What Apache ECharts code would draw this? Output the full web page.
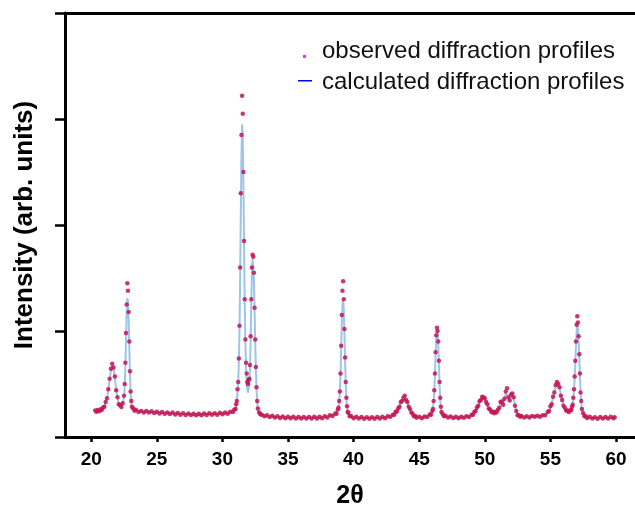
<!DOCTYPE html>
<html>
<head>
<meta charset="utf-8">
<script src="https://cdn.jsdelivr.net/npm/echarts@6/dist/echarts.min.js"></script>
<style>
html,body{margin:0;padding:0;background:#fff;}
#chart{width:635px;height:505px;}
</style>
</head>
<body>
<div id="chart"></div>
<script>
// ---- data ----
const twoTheta = [
  20.3, 20.4, 20.5, 20.6, 20.7, 20.8, 20.9, 21.0, 21.1, 21.2,
  21.3, 21.4, 21.5, 21.6, 21.7, 21.8, 21.9, 22.0, 22.1, 22.2,
  22.3, 22.4, 22.5, 22.55, 22.6, 22.65, 22.7, 22.75, 22.8, 22.85,
  22.9, 22.95, 23.0, 23.05, 23.1, 23.2, 23.3, 23.4, 23.6, 23.8,
  24.0, 24.2, 24.4, 24.6, 24.8, 25.0, 25.2, 25.4, 25.6, 25.8,
  26.0, 26.2, 26.4, 26.6, 26.8, 27.0, 27.2, 27.4, 27.6, 27.8,
  28.0, 28.2, 28.4, 28.6, 28.8, 29.0, 29.2, 29.4, 29.6, 29.8,
  30.0, 30.2, 30.4, 30.6, 30.8, 30.9, 31.0, 31.05, 31.1, 31.15,
  31.2, 31.25, 31.3, 31.35, 31.4, 31.45, 31.5, 31.55, 31.6, 31.65,
  31.7, 31.75, 31.8, 31.85, 31.9, 31.95, 32.0, 32.05, 32.1, 32.15,
  32.2, 32.25, 32.3, 32.35, 32.4, 32.45, 32.5, 32.55, 32.6, 32.65,
  32.7, 32.8, 32.9, 33.0, 33.2, 33.4, 33.6, 33.8, 34.0, 34.2,
  34.4, 34.6, 34.8, 35.0, 35.2, 35.4, 35.6, 35.8, 36.0, 36.2,
  36.4, 36.6, 36.8, 37.0, 37.2, 37.4, 37.6, 37.8, 38.0, 38.2,
  38.4, 38.6, 38.7, 38.8, 38.85, 38.9, 38.95, 39.0, 39.05, 39.1,
  39.15, 39.2, 39.25, 39.3, 39.35, 39.4, 39.45, 39.5, 39.55, 39.6,
  39.7, 39.8, 40.0, 40.2, 40.4, 40.6, 40.8, 41.0, 41.2, 41.4,
  41.6, 41.8, 42.0, 42.2, 42.4, 42.6, 42.8, 43.0, 43.1, 43.2,
  43.3, 43.4, 43.5, 43.6, 43.7, 43.8, 43.9, 44.0, 44.1, 44.2,
  44.3, 44.4, 44.5, 44.6, 44.7, 44.8, 45.0, 45.2, 45.4, 45.6,
  45.8, 45.9, 46.0, 46.05, 46.1, 46.15, 46.2, 46.25, 46.3, 46.35,
  46.4, 46.45, 46.5, 46.55, 46.6, 46.65, 46.7, 46.8, 46.9, 47.0,
  47.2, 47.4, 47.6, 47.8, 48.0, 48.2, 48.4, 48.6, 48.8, 49.0,
  49.1, 49.2, 49.3, 49.4, 49.5, 49.6, 49.7, 49.8, 49.9, 50.0,
  50.1, 50.2, 50.3, 50.4, 50.5, 50.6, 50.7, 50.8, 50.9, 51.0,
  51.1, 51.2, 51.3, 51.4, 51.5, 51.6, 51.7, 51.8, 51.9, 52.0,
  52.1, 52.2, 52.3, 52.4, 52.5, 52.6, 52.7, 52.8, 53.0, 53.2,
  53.4, 53.6, 53.8, 54.0, 54.2, 54.4, 54.6, 54.8, 54.9, 55.0,
  55.1, 55.2, 55.3, 55.4, 55.5, 55.6, 55.7, 55.8, 55.9, 56.0,
  56.1, 56.2, 56.3, 56.4, 56.5, 56.6, 56.65, 56.7, 56.75, 56.8,
  56.85, 56.9, 56.95, 57.0, 57.05, 57.1, 57.15, 57.2, 57.25, 57.3,
  57.35, 57.4, 57.5, 57.6, 57.7, 57.8, 58.0, 58.2, 58.4, 58.6,
  58.8, 59.0, 59.2, 59.4, 59.6, 59.8, 59.9
];

const observed = [
  .25, .238, .255, .243, .262, .255, .278, .285, .33, .365,
  .45, .55, .645, .69, .655, .57, .44, .375, .31, .30,
  .283, .318, .39, .5, .7, .98, 1.25, 1.45, 1.38, 1.18,
  .9, .62, .43, .34, .285, .27, .248, .258, .236, .246,
  .232, .245, .23, .242, .226, .238, .222, .235, .22, .232,
  .216, .23, .212, .226, .21, .224, .208, .222, .207, .22,
  .205, .22, .206, .222, .207, .224, .21, .225, .211, .228,
  .215, .232, .22, .238, .235, .258, .265, .31, .34, .45,
  .52, .74, 1.05, 1.6, 2.3, 2.85, 3.22, 3.05, 2.5, 1.85,
  1.3, .92, .7, .6, .52, .5, .54, .55, .68, .95,
  1.3, 1.6, 1.72, 1.7, 1.55, 1.22, .92, .66, .47, .34,
  .27, .23, .215, .21, .195, .205, .188, .2, .183, .196,
  .18, .194, .178, .192, .176, .19, .175, .189, .174, .188,
  .174, .188, .174, .19, .175, .19, .178, .195, .185, .205,
  .198, .222, .22, .26, .275, .34, .43, .6, .86, 1.15,
  1.38, 1.47, 1.3, 1.02, .75, .52, .37, .29, .235, .228,
  .195, .197, .178, .19, .175, .188, .173, .187, .173, .187,
  .173, .188, .175, .19, .178, .195, .19, .21, .21, .238,
  .24, .272, .285, .33, .34, .37, .39, .35, .33, .285,
  .265, .23, .22, .195, .198, .182, .19, .178, .193, .188,
  .212, .21, .245, .265, .34, .44, .6, .8, .96, 1.03,
  1.0, .9, .72, .52, .37, .285, .235, .215, .195, .2,
  .183, .193, .18, .192, .178, .192, .182, .195, .188, .21,
  .21, .236, .245, .278, .295, .338, .35, .38, .372, .365,
  .33, .31, .27, .26, .235, .238, .225, .238, .232, .256,
  .275, .33, .335, .305, .36, .43, .46, .375, .345, .4,
  .41, .375, .295, .245, .205, .205, .19, .197, .185, .196,
  .184, .198, .19, .2, .192, .205, .205, .235, .245, .29,
  .31, .38, .42, .49, .52, .5, .47, .39, .35, .295,
  .275, .25, .25, .235, .25, .255, .285, .305, .37, .45,
  .57, .72, .9, 1.06, 1.14, 1.08, .95, .78, .6, .42,
  .34, .265, .225, .195, .196, .18, .19, .174, .187, .173,
  .188, .174, .189, .175, .19, .176, .186
];

const calculated = [
  .245, .245, .25, .25, .255, .26, .27, .29, .32, .37,
  .44, .54, .63, .68, .65, .56, .45, .37, .32, .295,
  .29, .31, .38, .48, .66, .92, 1.17, 1.31, 1.28, 1.12,
  .86, .6, .42, .33, .29, .265, .255, .25, .245, .24,
  .24, .238, .236, .235, .233, .232, .23, .228, .226, .225,
  .223, .222, .22, .219, .218, .217, .216, .215, .214, .214,
  .213, .213, .213, .214, .214, .215, .216, .217, .218, .22,
  .222, .224, .227, .232, .24, .25, .27, .3, .35, .42,
  .5, .7, 1.0, 1.5, 2.1, 2.65, 2.95, 2.85, 2.4, 1.8,
  1.25, .88, .65, .52, .45, .42, .43, .5, .65, .9,
  1.25, 1.55, 1.68, 1.69, 1.5, 1.2, .9, .65, .45, .33,
  .27, .22, .21, .205, .2, .198, .195, .193, .19, .188,
  .187, .186, .185, .184, .183, .183, .182, .182, .181, .181,
  .181, .181, .181, .182, .182, .183, .185, .188, .192, .198,
  .205, .215, .225, .25, .28, .33, .42, .58, .82, 1.08,
  1.25, 1.29, 1.2, .98, .72, .5, .36, .28, .24, .22,
  .2, .19, .185, .183, .182, .18, .18, .18, .18, .18,
  .18, .18, .181, .182, .184, .188, .195, .205, .215, .23,
  .245, .265, .29, .32, .345, .36, .36, .345, .32, .29,
  .26, .235, .215, .2, .192, .188, .185, .185, .188, .195,
  .205, .215, .24, .27, .33, .43, .58, .77, .93, 1.01,
  .99, .88, .7, .5, .36, .28, .24, .21, .2, .195,
  .19, .187, .185, .185, .185, .186, .188, .19, .195, .205,
  .215, .23, .25, .27, .3, .33, .355, .37, .37, .36,
  .335, .305, .275, .255, .24, .232, .23, .232, .238, .25,
  .28, .32, .32, .31, .35, .41, .42, .37, .35, .39,
  .4, .37, .3, .24, .21, .2, .195, .19, .19, .19,
  .19, .192, .195, .195, .198, .2, .21, .23, .25, .28,
  .32, .37, .43, .48, .51, .5, .46, .4, .34, .3,
  .27, .255, .245, .24, .245, .26, .28, .31, .36, .44,
  .55, .7, .86, 1.0, 1.06, 1.03, .92, .76, .58, .43,
  .33, .27, .22, .2, .19, .185, .182, .18, .18, .18,
  .18, .18, .18, .18, .18, .18, .18
];

const xTickValues = [20, 25, 30, 35, 40, 45, 50, 55, 60];
const legendNames = ['observed diffraction profiles', 'calculated diffraction profiles'];
const xAxisTitle = '2θ';
const yAxisTitle = 'Intensity (arb. units)';

// ---- build ----
const obsData = twoTheta.map((t, i) => [t, observed[i]]);
const calcData = twoTheta.map((t, i) => [t, calculated[i]]);

const FONT = '"Liberation Sans", Arial, Helvetica, sans-serif';
const XMIN = 18, XMAX = 61.45;

const chart = echarts.init(document.getElementById('chart'), null, {renderer: 'canvas'});
chart.setOption({
  animation: false,
  backgroundColor: '#ffffff',
  grid: {left: 65, right: 0, top: 13, bottom: 68, containLabel: false, outerBoundsMode: 'none'},
  legend: {
    left: 298,
    top: 39,
    orient: 'vertical',
    padding: 0,
    itemGap: 7,
    itemWidth: 14,
    itemHeight: 14,
    selectedMode: false,
    textStyle: {fontFamily: FONT, fontSize: 24, color: '#111', lineHeight: 24, padding: [0, 0, 0, 5]},
    data: [
      {name: legendNames[0], icon: 'path://M0,0 M5,11 h3 v3 h-3 z M14,14', itemStyle: {color: '#ff00ff'}},
      {name: legendNames[1], icon: 'path://M0,0 M0,5 h14 v1.5 h-14 z M14,14', itemStyle: {color: '#0000ff'}}
    ]
  },
  xAxis: [{
    type: 'value',
    min: XMIN,
    max: XMAX,
    position: 'bottom',
    name: xAxisTitle,
    nameLocation: 'middle',
    nameGap: 47,
    nameTextStyle: {fontFamily: FONT, fontSize: 25, fontWeight: 'bold', color: '#000'},
    axisLine: {show: true, onZero: false, lineStyle: {color: '#000', width: 3}},
    axisTick: {show: true, inside: false, length: 5, lineStyle: {color: '#000', width: 2.5}, customValues: xTickValues},
    axisLabel: {show: true, margin: 13, fontFamily: FONT, fontSize: 19, fontWeight: 'bold', color: '#000', customValues: xTickValues},
    splitLine: {show: false}
  }, {
    type: 'value',
    min: XMIN,
    max: XMAX,
    position: 'top',
    axisLine: {show: true, onZero: false, lineStyle: {color: '#000', width: 3}},
    axisTick: {show: false},
    axisLabel: {show: false},
    splitLine: {show: false}
  }],
  yAxis: {
    type: 'value',
    min: 0,
    max: 4,
    interval: 1,
    name: yAxisTitle,
    nameLocation: 'middle',
    nameGap: 27,
    nameTextStyle: {fontFamily: FONT, fontSize: 26, fontWeight: 'bold', color: '#000'},
    axisLine: {show: true, onZero: false, lineStyle: {color: '#000', width: 3}},
    axisTick: {show: true, inside: false, length: 10, lineStyle: {color: '#000', width: 2.5}},
    axisLabel: {show: false},
    splitLine: {show: false}
  },
  series: [{
    name: legendNames[1],
    type: 'line',
    data: calcData,
    showSymbol: false,
    symbol: 'none',
    smooth: false,
    z: 2,
    lineStyle: {color: '#9ec4ec', width: 2},
    itemStyle: {color: '#0000ff'}
  }, {
    name: legendNames[0],
    type: 'scatter',
    data: obsData,
    symbol: 'circle',
    symbolSize: 4.5,
    z: 3,
    itemStyle: {color: '#c41552', opacity: 0.85}
  }]
});
</script>
</body>
</html>
